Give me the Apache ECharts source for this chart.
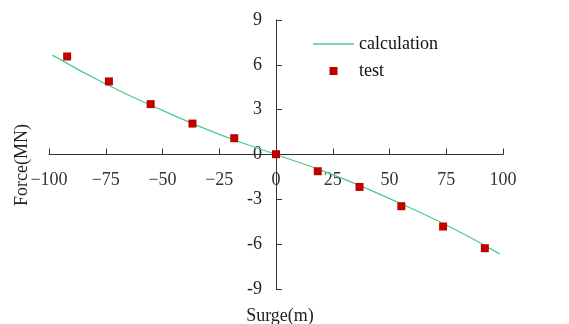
<!DOCTYPE html>
<html>
<head>
<meta charset="utf-8">
<script src="https://cdn.jsdelivr.net/npm/echarts@6/dist/echarts.min.js"></script>
<style>html,body{margin:0;padding:0;background:#fff;}#c{width:569px;height:324px;}</style>
</head>
<body>
<div id="c"></div>
<script>
var testX = [-92, -73.6, -55.2, -36.8, -18.4, 0, 18.4, 36.8, 55.2, 73.6, 92];
var testY = [6.56, 4.89, 3.37, 2.07, 1.09, 0.02, -1.12, -2.17, -3.46, -4.82, -6.27];
var calcX = [-98.5, -75, -50, -25, 0, 25, 50, 75, 98.5];
var calcY = [6.65, 4.72, 2.95, 1.35, 0, -1.35, -2.95, -4.72, -6.65];
var xTicks = [-100, -75, -50, -25, 0, 25, 50, 75, 100];
var yTicks = [-9, -6, -3, 0, 3, 6, 9];

var FONT = '"Liberation Serif", "Times New Roman", serif';
var GRID = {left: 49, right: 66, top: 20, bottom: 35};
var W = 569, H = 324;
var gw = W - GRID.left - GRID.right, gh = H - GRID.top - GRID.bottom;
var xMin = xTicks[0], xMax = xTicks[xTicks.length - 1];
var yMin = yTicks[0], yMax = yTicks[yTicks.length - 1];
// shift axes so they cross at zero (labels follow the axis line)
var xAxisOffset = -gh * (0 - yMin) / (yMax - yMin);
var yAxisOffset = -gw * (0 - xMin) / (xMax - xMin);

var chart = echarts.init(document.getElementById('c'));
chart.setOption({
  animation: false,
  backgroundColor: '#fff',
  grid: {left: GRID.left, right: GRID.right, top: GRID.top, bottom: GRID.bottom, containLabel: false},
  legend: {
    orient: 'vertical', left: 308, top: 30, itemWidth: 41, itemHeight: 8, itemGap: 9,
    textStyle: {fontFamily: FONT, fontSize: 18, color: '#111'},
    data: [{name: 'calculation', icon: 'path://M0,0h41v1.3h-41z'}, {name: 'test', icon: 'path://M0,0h1v1h-1z'}]
  },
  xAxis: {
    type: 'value', min: xMin, max: xMax, interval: 25, offset: xAxisOffset,
    axisLine: {onZero: false, lineStyle: {color: '#333', width: 1}},
    axisTick: {inside: true, length: 6, lineStyle: {color: '#333'}},
    splitLine: {show: false},
    axisLabel: {fontFamily: FONT, fontSize: 18, color: '#333', margin: 17,
      formatter: function (v) { return v < 0 ? '\u2212' + (-v) : String(v); }}
  },
  yAxis: {
    type: 'value', min: yMin, max: yMax, interval: 3, offset: yAxisOffset,
    axisLine: {onZero: false, lineStyle: {color: '#333', width: 1}},
    axisTick: {inside: true, length: 6, lineStyle: {color: '#333'}},
    splitLine: {show: false},
    axisLabel: {fontFamily: FONT, fontSize: 18, color: '#222', margin: 14,
      formatter: function (v) { return String(v); }}
  },
  graphic: [
    {type: 'text', x: 280, y: 316, style: {text: 'Surge(m)', font: '18px ' + FONT, fill: '#222', align: 'center', verticalAlign: 'middle'}},
    {type: 'text', rotation: Math.PI / 2, x: 22, y: 165, style: {text: 'Force(MN)', font: '18px ' + FONT, fill: '#222', align: 'center', verticalAlign: 'middle'}}
  ],
  series: [
    {name: 'calculation', type: 'line', smooth: true, symbol: 'none', showSymbol: false,
      lineStyle: {color: '#4ccb8a', width: 1.2}, itemStyle: {color: '#4ccb8a'},
      data: calcX.map(function (x, i) { return [x, calcY[i]]; }), z: 2},
    {name: 'test', type: 'scatter', symbol: 'rect', symbolSize: 8,
      itemStyle: {color: '#c00000', opacity: 1},
      data: testX.map(function (x, i) { return [x, testY[i]]; }), z: 3}
  ]
});
</script>
</body>
</html>
